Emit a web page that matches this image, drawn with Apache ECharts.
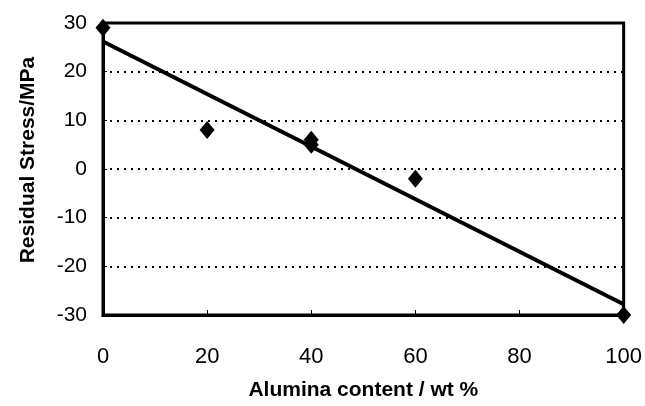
<!DOCTYPE html>
<html>
<head>
<meta charset="utf-8">
<script src="https://cdn.jsdelivr.net/npm/echarts@6/dist/echarts.min.js"></script>
<style>html,body{margin:0;padding:0;background:#fff}#c{width:645px;height:406px}</style>
</head>
<body>
<div id="c"></div>
<script>
// Measured data points (alumina wt %, residual stress MPa)
const aluminaContent = [0, 20, 40, 40, 60, 100];
const residualStress = [29, 8, 6, 5, -2, -30];
// Linear trend line end points
const trendX = [0, 100];
const trendY = [26.2, -27.8];
const xTicks = [0, 20, 40, 60, 80, 100];
const yTicks = [-30, -20, -10, 0, 10, 20, 30];
const xTitle = 'Alumina content / wt %';
const yTitle = 'Residual Stress/MPa';

const fontFam = "'Liberation Sans', Arial, sans-serif";
const chart = echarts.init(document.getElementById('c'), null, {renderer: 'canvas'});
chart.setOption({
  animation: false,
  backgroundColor: '#fff',
  grid: {left: 103, right: 21, top: 23, bottom: 86, show: true, borderColor: '#000', borderWidth: 3, backgroundColor: 'transparent'},
  xAxis: {
    type: 'value', min: xTicks[0], max: xTicks[xTicks.length - 1], interval: 20,
    name: xTitle, nameLocation: 'middle', nameGap: 65,
    nameTextStyle: {fontFamily: fontFam, fontWeight: 'bold', fontSize: 21, color: '#000'},
    axisLine: {show: true, onZero: false, lineStyle: {color: '#000', width: 3}},
    axisTick: {show: true, inside: true, length: 5, lineStyle: {color: '#000', width: 1}},
    axisLabel: {fontFamily: fontFam, fontSize: 22, color: '#000', margin: 31},
    splitLine: {show: false}
  },
  yAxis: {
    type: 'value', min: yTicks[0], max: yTicks[yTicks.length - 1], interval: 10,
    name: yTitle, nameLocation: 'middle', nameGap: 64, nameRotate: 90,
    nameTextStyle: {fontFamily: fontFam, fontWeight: 'bold', fontSize: 21, color: '#000', padding: [0, 0, 0, 18]},
    axisLine: {show: true, onZero: false, lineStyle: {color: '#000', width: 3}},
    axisTick: {show: true, inside: true, length: 4, lineStyle: {color: '#000', width: 1}},
    axisLabel: {fontFamily: fontFam, fontSize: 21, color: '#000', margin: 16},
    splitLine: {show: true, lineStyle: {color: '#000', type: [2, 5], width: 2}}
  },
  series: [
    {
      type: 'line',
      data: trendX.map((x, i) => [x, trendY[i]]),
      showSymbol: false, symbol: 'none',
      lineStyle: {color: '#000', width: 4},
      z: 3
    },
    {
      type: 'scatter',
      data: aluminaContent.map((x, i) => [x, residualStress[i]]),
      symbol: 'diamond', symbolSize: [15, 18],
      itemStyle: {color: '#000', opacity: 1},
      z: 4
    }
  ]
});
</script>
</body>
</html>
